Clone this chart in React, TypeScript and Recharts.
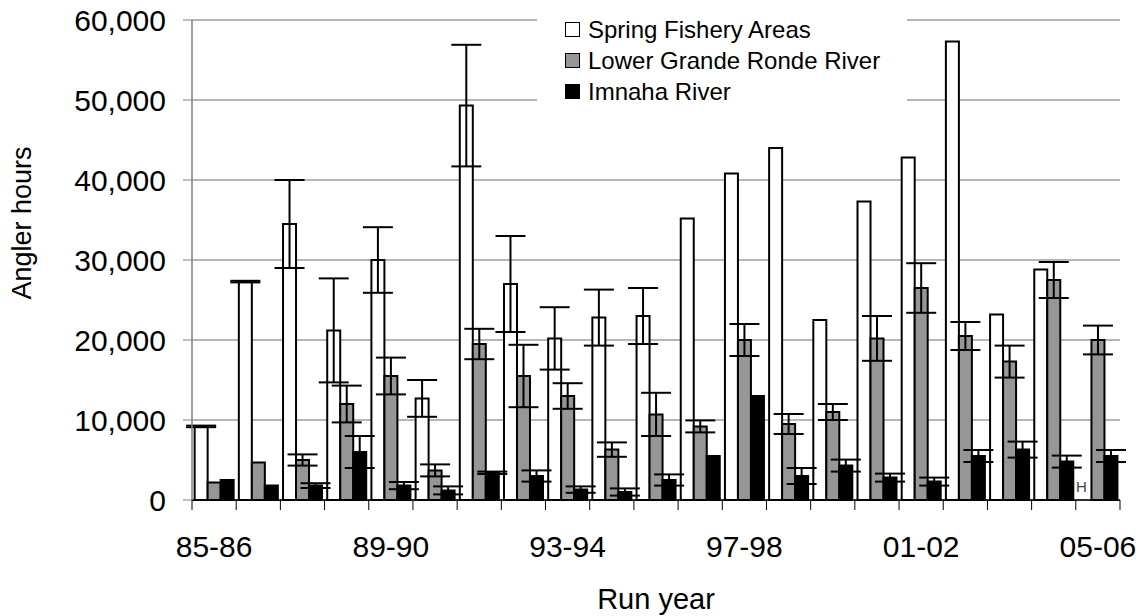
import React from "react";
import { BarChart, Bar, XAxis, YAxis, CartesianGrid, ErrorBar, Legend, LabelList } from "recharts";

const years = ["85-86", "86-87", "87-88", "88-89", "89-90", "90-91", "91-92", "92-93", "93-94", "94-95", "95-96", "96-97", "97-98", "98-99", "99-00", "00-01", "01-02", "02-03", "03-04", "04-05", "05-06"];
const xTickLabels = ["85-86", "89-90", "93-94", "97-98", "01-02", "05-06"];
const yTicks = [0, 10000, 20000, 30000, 40000, 50000, 60000];

const spring = [9200, 27300, 34500, 21200, 30000, 12700, 49300, 27000, 20200, 22800, 23000, 35200, 40800, 44000, 22500, 37300, 42800, 57300, 23200, 28800, 0];
const springErr = [100, 100, 5500, 6500, 4100, 2300, 7600, 6000, 3900, 3500, 3500, 0, 0, 0, 0, 0, 0, 0, 0, 0, 0];
// stray marker printed where the 05-06 spring bar would be
const yearNote = ["", "", "", "", "", "", "", "", "", "", "", "", "", "", "", "", "", "", "", "", "H"];

const lowerGR = [2200, 4700, 5000, 12000, 15500, 3700, 19500, 15500, 13000, 6300, 10700, 9200, 20000, 9500, 11000, 20200, 26500, 20500, 17300, 27500, 20000];
const lowerGRErr = [0, 0, 700, 2300, 2300, 750, 1900, 3900, 1600, 900, 2700, 750, 2000, 1250, 1000, 2800, 3100, 1750, 2000, 2250, 1800];

const imnaha = [2500, 1800, 1800, 6000, 1800, 1200, 3400, 3000, 1300, 1000, 2500, 5500, 13000, 3000, 4300, 2800, 2300, 5500, 6300, 4800, 5500];
const imnahaErr = [0, 0, 300, 2000, 450, 500, 150, 700, 400, 450, 700, 0, 0, 1000, 750, 500, 500, 750, 1000, 750, 750];

const data = years.map((year, i) => ({
  year,
  spring: spring[i],
  springErr: springErr[i],
  note: yearNote[i],
  lowerGR: lowerGR[i],
  lowerGRErr: lowerGRErr[i],
  imnaha: imnaha[i],
  imnahaErr: imnahaErr[i],
}));

const W = 1146;
const H = 616;
const M = { top: 20, right: 26, left: 0, bottom: 0 };
const Y_W = 192;
const X_H = 116;
const PLOT_W = W - M.left - M.right - Y_W;
const HALF_BAND = PLOT_W / years.length / 2;
const FONT = "'Liberation Sans', Arial, sans-serif";

const fmt = (v: number) => v.toLocaleString("en-US");

function XTick(props: any) {
  const { x, y, payload, index } = props;
  const isLast = index === years.length - 1;
  return (
    <g>
      <line x1={x - HALF_BAND} x2={x - HALF_BAND} y1={y} y2={y + 10} stroke="#000" strokeWidth={1} />
      {isLast && <line x1={x + HALF_BAND} x2={x + HALF_BAND} y1={y} y2={y + 10} stroke="#000" strokeWidth={1} />}
      {xTickLabels.includes(payload.value) && (
        <text x={x} y={y + 57} textAnchor="middle" fontSize={30} fill="#000" fontFamily={FONT}>
          {payload.value}
        </text>
      )}
    </g>
  );
}

function LegendBox(props: any) {
  const items = [...(props.payload || [])].reverse();
  return (
    <div style={{ background: "#fff", paddingTop: 8, paddingLeft: 28, paddingBottom: 6, fontFamily: FONT }}>
      {items.map((e: any) => (
        <div key={e.value} style={{ display: "flex", alignItems: "center", height: 31 }}>
          <span style={{ display: "inline-block", width: 13, height: 13, background: e.color, border: "1.5px solid #000", marginRight: 8 }} />
          <span style={{ fontSize: 24, color: "#000", lineHeight: "31px" }}>{e.value}</span>
        </div>
      ))}
    </div>
  );
}

function NoteLabel(props: any) {
  const { x, y, height, value } = props;
  if (!value) return null;
  return (
    <text x={x - 10} y={y + height - 8} textAnchor="middle" fontSize={15} fill="#444" fontFamily={FONT}>
      {value}
    </text>
  );
}

export default function App() {
  return (
    <div style={{ position: "absolute", left: 0, top: 0, width: W, height: H, background: "#fff" }}>
      <BarChart width={W} height={H} data={data} margin={M} barCategoryGap="6%" barGap={0}>
        <CartesianGrid vertical={false} stroke="#6e6e6e" strokeWidth={1} />
        <XAxis
          dataKey="year"
          height={X_H}
          interval={0}
          tickLine={false}
          tickSize={0}
          tickMargin={0}
          axisLine={{ stroke: "#000", strokeWidth: 1.5 }}
          tick={<XTick />}
          label={{
            content: () => (
              <text x={Y_W + PLOT_W / 2} y={609} textAnchor="middle" fontSize={29} fill="#000" fontFamily={FONT}>
                Run year
              </text>
            ),
          }}
        />
        <YAxis
          width={Y_W}
          domain={[0, 60000]}
          ticks={yTicks}
          interval={0}
          tickFormatter={fmt}
          tickSize={9}
          tickMargin={17}
          tickLine={{ stroke: "#808080" }}
          axisLine={{ stroke: "#808080", strokeWidth: 1.5 }}
          tick={{ fontSize: 30, fill: "#000", fontFamily: FONT }}
          label={{
            content: () => (
              <text x={31} y={223} transform="rotate(-90 31 223)" textAnchor="middle" fontSize={27} fill="#000" fontFamily={FONT}>
                Angler hours
              </text>
            ),
          }}
        />
        <Legend
          layout="horizontal"
          verticalAlign="middle"
          align="center"
          content={<LegendBox />}
          wrapperStyle={{ left: 537, top: 6, width: 370, height: 106 }}
        />
        <Bar dataKey="spring" name="Spring Fishery Areas" fill="#ffffff" stroke="#000" strokeWidth={2} isAnimationActive={false}>
          <ErrorBar dataKey="springErr" width={15} stroke="#000" strokeWidth={2} direction="y" isAnimationActive={false} />
        </Bar>
        <Bar dataKey="lowerGR" name="Lower Grande Ronde River" fill="#969696" stroke="#000" strokeWidth={2} isAnimationActive={false}>
          <ErrorBar dataKey="lowerGRErr" width={15} stroke="#000" strokeWidth={2} direction="y" isAnimationActive={false} />
          <LabelList dataKey="note" content={<NoteLabel />} />
        </Bar>
        <Bar dataKey="imnaha" name="Imnaha River" fill="#000000" stroke="#000" strokeWidth={2} isAnimationActive={false}>
          <ErrorBar dataKey="imnahaErr" width={15} stroke="#000" strokeWidth={2} direction="y" isAnimationActive={false} />
        </Bar>
      </BarChart>
    </div>
  );
}
